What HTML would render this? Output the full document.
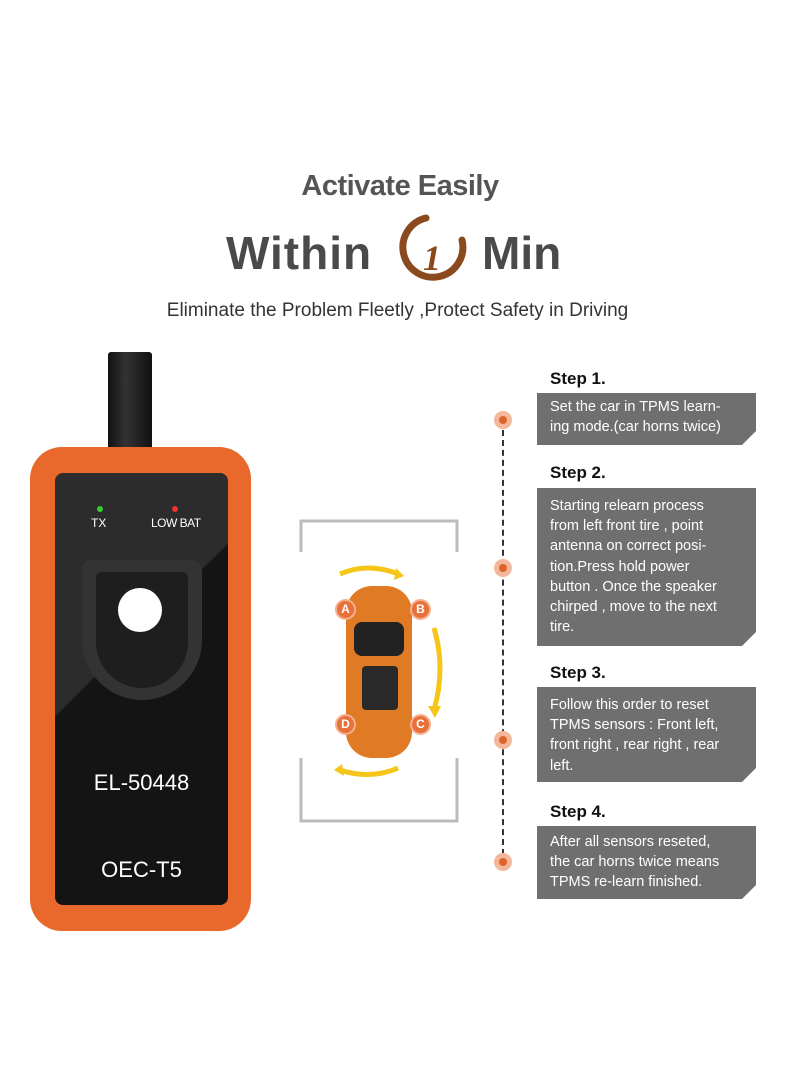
<!DOCTYPE html>
<html><head><meta charset="utf-8"><style>
body{margin:0;background:#fff;font-family:"Liberation Sans",sans-serif}
.wrap{position:relative;width:800px;height:1091px;overflow:hidden}
.t{position:absolute;white-space:nowrap}
.box{position:absolute;left:537px;width:219px;background:#6f6f6f;color:#fff;font-size:14.5px;line-height:20.2px;padding:4px 0 0 13px;box-sizing:border-box;clip-path:polygon(0 0,100% 0,100% calc(100% - 14px),calc(100% - 14px) 100%,0 100%)}
.h{position:absolute;left:550px;font-weight:bold;font-size:17px;color:#111}
.dot{position:absolute;left:494px;width:18px;height:18px;border-radius:50%;background:#f3b79c}
.dot:after{content:"";position:absolute;left:5px;top:5px;width:8px;height:8px;border-radius:50%;background:#e0622b}
.lbl{position:absolute;width:17px;height:17px;border-radius:50%;background:#e8703a;border:2px solid #f4b08f;color:#fff;font-weight:bold;font-size:12px;text-align:center;line-height:17px}
</style></head><body><div class="wrap">
<div class="t" style="left:0;width:800px;text-align:center;top:170px;font-size:29px;font-weight:bold;color:#555;letter-spacing:-0.5px">Activate Easily</div>
<div class="t" style="left:226px;top:226px;font-size:46px;font-weight:900;color:#4a4a4a;letter-spacing:1px">Within</div>
<div class="t" style="left:482px;top:226px;font-size:46px;font-weight:900;color:#4a4a4a">Min</div>
<svg style="position:absolute;left:396px;top:214px" width="72" height="70">
<path d="M30 4 A30 30 0 1 0 66 26" fill="none" stroke="#8a4a1e" stroke-width="7" stroke-linecap="round"/>
<text x="27" y="56" font-size="36" font-weight="bold" font-style="italic" fill="#8a4a1e" font-family="Liberation Serif">1</text></svg>
<div class="t" style="left:0;width:795px;text-align:center;top:300px;font-size:19px;color:#333">Eliminate the Problem Fleetly ,Protect Safety in Driving</div>

<!-- device -->
<div style="position:absolute;left:108px;top:352px;width:44px;height:100px;background:linear-gradient(90deg,#111,#333 40%,#111);border-radius:3px"></div>
<div style="position:absolute;left:30px;top:447px;width:221px;height:484px;background:#e8692b;border-radius:32px"></div>
<div style="position:absolute;left:55px;top:473px;width:173px;height:432px;background:linear-gradient(135deg,#2c2c2c 0%,#2c2c2c 40%,#141414 40.5%,#141414 100%);border-radius:8px"></div>
<div style="position:absolute;left:97px;top:506px;width:6px;height:6px;border-radius:50%;background:#3c3"></div>
<div style="position:absolute;left:172px;top:506px;width:6px;height:6px;border-radius:50%;background:#e33"></div>
<div class="t" style="left:91px;top:516px;font-size:12px;color:#fff">TX</div>
<div class="t" style="left:151px;top:516px;font-size:12px;color:#fff;letter-spacing:-0.5px">LOW BAT</div>
<div style="position:absolute;left:82px;top:560px;width:120px;height:140px;background:#333;border-radius:10px 10px 60px 60px"></div>
<div style="position:absolute;left:96px;top:572px;width:92px;height:116px;background:#1e1e1e;border-radius:6px 6px 46px 46px"></div>
<div style="position:absolute;left:118px;top:588px;width:44px;height:44px;border-radius:50%;background:#fff"></div>
<div class="t" style="left:55px;width:173px;text-align:center;top:770px;font-size:22px;color:#fff">EL-50448</div>
<div class="t" style="left:55px;width:173px;text-align:center;top:857px;font-size:22px;color:#fff">OEC-T5</div>

<!-- car frame -->
<svg style="position:absolute;left:298px;top:518px" width="164" height="306">
<path d="M3 34 V3 H159 V34 M3 240 V303 H159 V240" fill="none" stroke="#bbb" stroke-width="3"/>
<path d="M42 56 Q70 44 100 56" fill="none" stroke="#f5c518" stroke-width="5"/><path d="M98 50 L106 58 L96 62Z" fill="#f5c518"/>
<path d="M136 110 Q148 150 136 192" fill="none" stroke="#f5c518" stroke-width="5"/><path d="M130 188 L137 200 L143 188Z" fill="#f5c518"/>
<path d="M100 250 Q72 262 42 252" fill="none" stroke="#f5c518" stroke-width="5"/><path d="M44 246 L36 252 L46 258Z" fill="#f5c518"/>
<rect x="48" y="68" width="66" height="172" rx="26" fill="#e07a24"/>
<rect x="56" y="104" width="50" height="34" rx="8" fill="#222"/>
<rect x="64" y="148" width="36" height="44" rx="4" fill="#2a2a2a"/>
</svg>
<div class="lbl" style="left:335px;top:599px">A</div>
<div class="lbl" style="left:410px;top:599px">B</div>
<div class="lbl" style="left:410px;top:714px">C</div>
<div class="lbl" style="left:335px;top:714px">D</div>

<!-- timeline -->
<div style="position:absolute;left:502px;top:420px;height:445px;border-left:2px dashed #333"></div>
<div class="dot" style="top:411px"></div>
<div class="dot" style="top:559px"></div>
<div class="dot" style="top:731px"></div>
<div class="dot" style="top:853px"></div>

<div class="h" style="top:369px">Step 1.</div>
<div class="box" style="top:393px;height:52px">Set the car in TPMS learn-<br>ing mode.(car horns twice)</div>
<div class="h" style="top:463px">Step 2.</div>
<div class="box" style="top:488px;height:158px;padding-top:8px">Starting relearn process<br>from left front tire , point<br>antenna on correct posi-<br>tion.Press hold power<br>button . Once the speaker<br>chirped , move to the next<br>tire.</div>
<div class="h" style="top:663px">Step 3.</div>
<div class="box" style="top:687px;height:95px;padding-top:8px">Follow this order to reset<br>TPMS sensors : Front left,<br>front right , rear right , rear<br>left.</div>
<div class="h" style="top:802px">Step 4.</div>
<div class="box" style="top:826px;height:73px;padding-top:6px">After all sensors reseted,<br>the car horns twice means<br>TPMS re-learn finished.</div>
</div></body></html>
